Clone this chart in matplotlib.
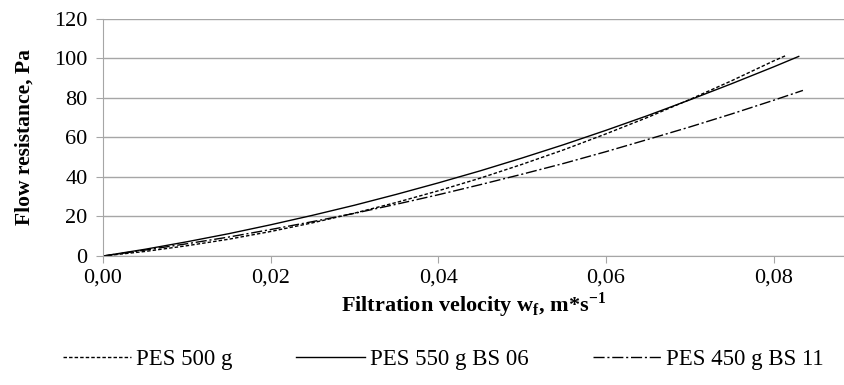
import matplotlib
matplotlib.use("Agg")
import matplotlib.pyplot as plt

# Data
x_500 = [0, 0.005, 0.01, 0.015, 0.02, 0.025, 0.03, 0.035, 0.04, 0.045, 0.05, 0.055, 0.06, 0.065, 0.07, 0.075, 0.08, 0.0815]
y_500 = [0, 2.3, 5.2, 8.5, 12.4, 16.8, 21.7, 27.1, 33.0, 39.4, 46.4, 53.8, 61.8, 70.2, 79.2, 88.7, 98.7, 101.5]

x_550 = [0, 0.005, 0.01, 0.015, 0.02, 0.025, 0.03, 0.035, 0.04, 0.045, 0.05, 0.055, 0.06, 0.065, 0.07, 0.075, 0.08, 0.083]
y_550 = [0, 3.4, 7.2, 11.3, 15.8, 20.6, 25.7, 31.2, 37.0, 43.1, 49.6, 56.4, 63.6, 71.1, 79.0, 87.2, 95.7, 101.0]

x_450 = [0, 0.005, 0.01, 0.015, 0.02, 0.025, 0.03, 0.035, 0.04, 0.045, 0.05, 0.055, 0.06, 0.065, 0.07, 0.075, 0.08, 0.0835]
y_450 = [0, 3.0, 6.2, 9.6, 13.4, 17.4, 21.6, 26.2, 31.0, 36.1, 41.4, 46.9, 52.8, 59.0, 65.3, 71.9, 78.8, 83.8]

x_ticks = [0, 0.02, 0.04, 0.06, 0.08]
x_tick_labels = ["0,00", "0,02", "0,04", "0,06", "0,08"]
y_ticks = [0, 20, 40, 60, 80, 100, 120]

plt.rcParams['font.family'] = ['Liberation Serif', 'DejaVu Serif']
plt.rcParams['mathtext.fontset'] = 'custom'
plt.rcParams['mathtext.rm'] = 'Liberation Serif'
plt.rcParams['mathtext.bf'] = 'Liberation Serif:bold'

fig = plt.figure(figsize=(8.44, 3.85), dpi=100)
ax = fig.add_axes([0.122, 0.335, 0.878, 0.616])

ax.plot(x_500, y_500, color='black', lw=1.0, linestyle=(0, (2.5, 1.5)), label='PES 500 g')
ax.plot(x_550, y_550, color='black', lw=1.0, linestyle='-', label='PES 550 g BS 06')
ax.plot(x_450, y_450, color='black', lw=1.0, linestyle=(0, (8, 2, 1.5, 2)), label='PES 450 g BS 11')

ax.set_xlim(0, 0.0884)
ax.set_ylim(0, 120)
ax.set_xticks(x_ticks)
ax.set_xticklabels(x_tick_labels)
ax.set_yticks(y_ticks)
ax.yaxis.grid(True, color='#a6a6a6', lw=1.0)
ax.set_axisbelow(True)
for s in ['top', 'right']:
    ax.spines[s].set_visible(False)
for s in ['left', 'bottom']:
    ax.spines[s].set_color('#a6a6a6')
ax.tick_params(axis='both', colors='#a6a6a6', labelcolor='black', labelsize=16, length=5)
ax.tick_params(axis='x', pad=4)
ax.tick_params(axis='y', pad=6)

ax.set_xlabel(r'Filtration velocity w$_\mathbf{f}$, m*s$^\mathbf{-1}$', fontsize=16, fontweight='bold', labelpad=2)
ax.set_ylabel('Flow resistance, Pa', fontsize=15.5, fontweight='bold', labelpad=14)

fig.legend(loc='lower center', bbox_to_anchor=(0.525, -0.015), ncol=3, frameon=False,
           fontsize=16.5, handlelength=3.0, columnspacing=2.8, handletextpad=0.2)

fig.savefig('out.png', dpi=100)
